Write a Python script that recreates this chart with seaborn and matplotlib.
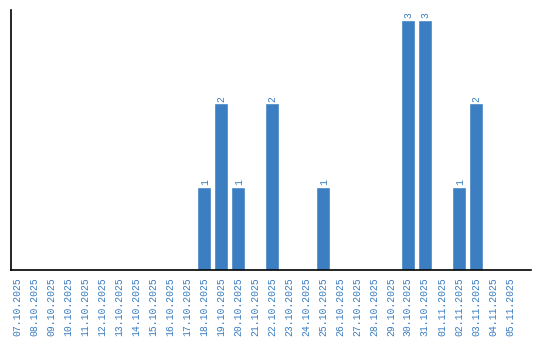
import matplotlib
matplotlib.use("Agg")
import matplotlib.pyplot as plt
import seaborn as sns
import pandas as pd

dates = ["07.10.2025", "08.10.2025", "09.10.2025", "10.10.2025", "11.10.2025",
         "12.10.2025", "13.10.2025", "14.10.2025", "15.10.2025", "16.10.2025",
         "17.10.2025", "18.10.2025", "19.10.2025", "20.10.2025", "21.10.2025",
         "22.10.2025", "23.10.2025", "24.10.2025", "25.10.2025", "26.10.2025",
         "27.10.2025", "28.10.2025", "29.10.2025", "30.10.2025", "31.10.2025",
         "01.11.2025", "02.11.2025", "03.11.2025", "04.11.2025", "05.11.2025"]
counts = [0, 0, 0, 0, 0, 0, 0, 0, 0, 0,
          0, 1, 2, 1, 0, 2, 0, 0, 1, 0,
          0, 0, 0, 3, 3, 0, 1, 2, 0, 0]

sns.set_style("white")
plt.rcParams['font.family'] = ['Liberation Mono', 'DejaVu Sans Mono']

bar_color = "#3b7ec2"
text_color = "#3a7dc0"

df = pd.DataFrame({"date": dates, "count": counts})

fig = plt.figure(figsize=(5.4, 3.4), dpi=100)
ax = fig.add_axes([10.5/540, 70/340, 520.5/540, 260/340])
sns.barplot(data=df, x="date", y="count", color=bar_color, saturation=1,
            width=0.82, ax=ax, order=dates)

ax.set_xlim(-0.38, 30.24)
ax.set_ylim(0, 3.12)
ax.set_xlabel("")
ax.set_ylabel("")
ax.set_yticks([])
ax.tick_params(axis="x", length=0, pad=5, labelsize=7, labelcolor=text_color,
               rotation=90)
for lab in ax.get_xticklabels():
    lab.set_verticalalignment("top")

for s in ["top", "right"]:
    ax.spines[s].set_visible(False)
for s in ["left", "bottom"]:
    ax.spines[s].set_color("black")
    ax.spines[s].set_linewidth(1.2)

for i, v in enumerate(counts):
    if v > 0:
        ax.text(i + 0.05, v + 0.02, str(v), rotation=90, ha="center", va="bottom",
                fontsize=7, color=text_color)

fig.savefig("out.png", dpi=100)
